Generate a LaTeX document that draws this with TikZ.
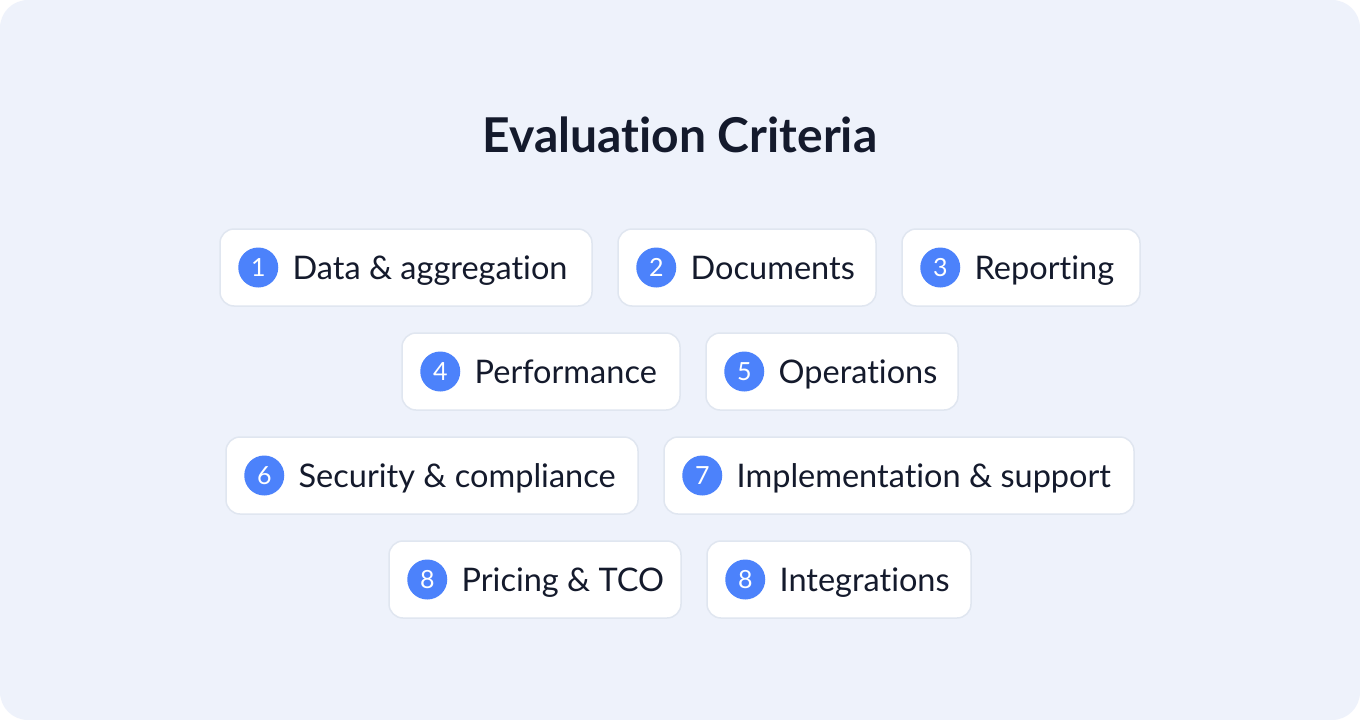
\documentclass[tikz,border=0pt]{standalone}
\usepackage{fontspec}
\setmainfont{Lato}[Ligatures={NoCommon}]
\usetikzlibrary{positioning}

\definecolor{bgblue}{HTML}{EEF2FB}
\definecolor{pillline}{HTML}{E0E6F0}
\definecolor{badgeblue}{HTML}{4C82FB}
\definecolor{ink}{HTML}{141A2C}

\tikzstyle{pill}=[rectangle,
                  rounded corners=14pt,
                  draw=pillline,
                  line width=1.5pt,
                  fill=white,
                  minimum height=77pt,
                  inner sep=0pt]
\tikzstyle{badge}=[circle,
                   fill=badgeblue,
                   text=white,
                   minimum size=40pt,
                   inner sep=0pt,
                   font=\fontsize{25}{27}\selectfont]
\tikzstyle{item}=[inner sep=0pt,
                  text=ink,
                  text height=23pt,
                  text depth=0pt,
                  font=\fontsize{32.5}{36}\selectfont]

\begin{document}
\begin{tikzpicture}[x=1pt,y=-1pt]
  \useasboundingbox (0,0) rectangle (1360,720);
  \fill[white] (0,0) rectangle (1360,720);
  \fill[bgblue,rounded corners=28pt] (0,0) rectangle (1360,720);

  \node (title) [text=ink,font=\fontsize{48}{52}\selectfont\bfseries] at (680,135) {Evaluation Criteria};

  % row 1
  \node (p1) [pill,minimum width=372pt] at (406,267.5) {};
  \node (p2) [pill,minimum width=258pt] at (747,267.5) {};
  \node (p3) [pill,minimum width=238pt] at (1021,267.5) {};
  % row 2
  \node (p4) [pill,minimum width=278pt] at (541,371.5) {};
  \node (p5) [pill,minimum width=252pt] at (832,371.5) {};
  % row 3
  \node (p6) [pill,minimum width=412pt] at (432,475.5) {};
  \node (p7) [pill,minimum width=470pt] at (899,475.5) {};
  % row 4
  \node (p8) [pill,minimum width=292pt] at (535,579.5) {};
  \node (p9) [pill,minimum width=264pt] at (839,579.5) {};

  % numbers and labels
  \foreach \p/\n/\t in {p1/1/Data \& aggregation,
                        p2/2/Documents,
                        p3/3/Reporting,
                        p4/4/Performance,
                        p5/5/Operations,
                        p6/6/Security \& compliance,
                        p7/7/Implementation \& support,
                        p8/8/Pricing \& TCO,
                        p9/8/Integrations} {
    \node (b-\p) [badge] at ([xshift=39pt]\p.west) {\n};
    \node (t-\p) [item,right=14pt of b-\p] {\t};
  }
\end{tikzpicture}
\end{document}
